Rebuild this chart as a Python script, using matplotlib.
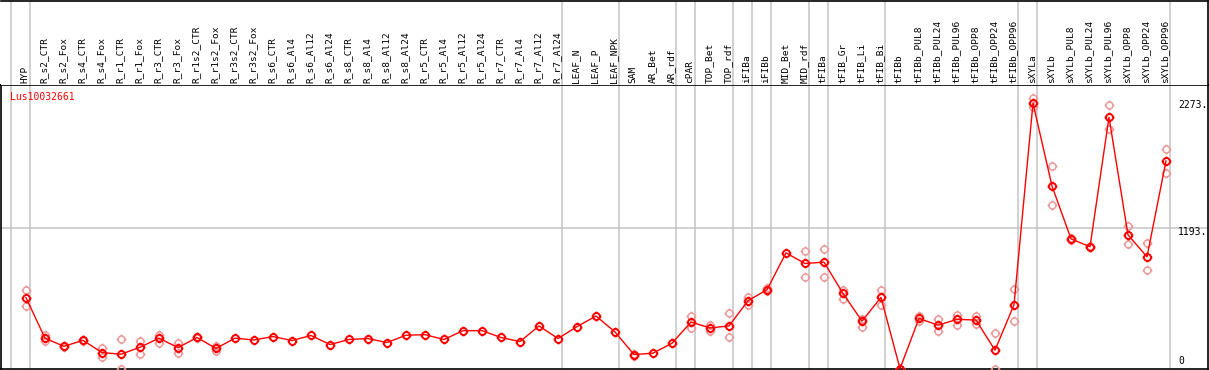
import numpy as np
import matplotlib
matplotlib.use("Agg")
import matplotlib.pyplot as plt
from matplotlib.path import Path

nan = np.nan

categories = ["HYP", "R_s2_CTR", "R_s2_Fox", "R_s4_CTR", "R_s4_Fox", "R_r1_CTR", "R_r1_Fox",
              "R_r3_CTR", "R_r3_Fox", "R_r1s2_CTR", "R_r1s2_Fox", "R_r3s2_CTR", "R_r3s2_Fox",
              "R_s6_CTR", "R_s6_Al4", "R_s6_Al12", "R_s6_Al24", "R_s8_CTR", "R_s8_Al4",
              "R_s8_Al12", "R_s8_Al24", "R_r5_CTR", "R_r5_Al4", "R_r5_Al12", "R_r5_Al24",
              "R_r7_CTR", "R_r7_Al4", "R_r7_Al12", "R_r7_Al24", "LEAF_N", "LEAF_P", "LEAF_NPK",
              "SAM", "AR_Bet", "AR_rdf", "cPAR", "TOP_Bet", "TOP_rdf", "iFIBa", "iFIBb",
              "MID_Bet", "MID_rdf", "tFIBa", "tFIB_Gr", "tFIB_Li", "tFIB_Bi", "tFIBb",
              "tFIBb_PUL8", "tFIBb_PUL24", "tFIBb_PUL96", "tFIBb_OPP8", "tFIBb_OPP24",
              "tFIBb_OPP96", "sXYLa", "sXYLb", "sXYLb_PUL8", "sXYLb_PUL24", "sXYLb_PUL96",
              "sXYLb_OPP8", "sXYLb_OPP24", "sXYLb_OPP96"]

mean_values = [602, 258, 189, 240, 136, 122, 181, 258, 178, 264, 171, 258, 243,
               272, 238, 281, 204, 247, 255, 221, 283, 288, 247, 322, 322,
               264, 229, 362, 255, 356, 446, 311, 119, 131, 215, 395, 345, 362,
               576, 669, 982, 892, 903, 638, 403, 604, 0, 426, 368, 418, 412, 156,
               542, 2251, 1549, 1101, 1034, 2133, 1135, 948, 1761]

rep_a = [664, 282, 195, 246, 171, 249, 232, 288, 221, 270, 192, nan, nan,
         nan, nan, nan, nan, nan, nan, nan, nan, nan, nan, nan, nan,
         nan, nan, nan, nan, nan, nan, nan, 108, nan, nan, 446, 368, 475,
         606, 680, nan, 1000, 1011, 664, 418, 666, 0, 446, 418, 458, 446, 305,
         678, 2293, 1715, 1110, 1040, 2237, 1208, 1067, 1862]

rep_b = [530, 235, 182, 234, 102, 0, 125, 221, 136, 258, 150, nan, nan,
         nan, nan, nan, nan, nan, nan, nan, nan, nan, nan, nan, nan,
         nan, nan, nan, nan, nan, nan, nan, 125, nan, nan, 345, 322, 264,
         536, 660, nan, 779, 779, 594, 356, 536, 0, 401, 319, 374, 376, 0,
         407, 2217, 1388, 1092, 1028, 2032, 1058, 835, 1660]

group_ends = [-1, 0, 28, 31, 34, 35, 37, 38, 39, 41, 42, 45, 52, 53, 60]
gene_name = "Lus10032661"
axis_labels = ["2273.", "1193.", "0"]
axis_values = [2273, 1193, 0]

W, H = 1209, 370
fig = plt.figure(figsize=(W / 100, H / 100), dpi=100)

# pixel geometry
left_px, right_px = 1, 1207.5
top_hdr, split_px, bottom_px = 0.5, 85, 369
x0_px, dx_px = 26, 19
xmin = (left_px - x0_px) / dx_px
xmax = (right_px - x0_px) / dx_px
scale = 0.1182
zero_px = 369.4
ymin = (zero_px - bottom_px) / scale * -1
ymax = (zero_px - split_px) / scale

ax = fig.add_axes([left_px / W, (H - bottom_px) / H, (right_px - left_px) / W, (bottom_px - split_px) / H])
hdr = fig.add_axes([left_px / W, (H - split_px) / H, (right_px - left_px) / W, (split_px - top_hdr) / H])

for a in (ax, hdr):
    a.set_xlim(xmin, xmax)
    a.set_xticks([])
    a.set_yticks([])
    for s in a.spines.values():
        s.set_color("black")
        s.set_linewidth(1.2)
ax.set_ylim(ymin, ymax)
hdr.set_ylim(split_px, top_hdr)
hdr.spines["left"].set_visible(False)
hdr.spines["bottom"].set_visible(False)

grid_c = "#c4c4c4"
for g in group_ends:
    for a in (ax, hdr):
        a.axvline(g + 0.22, color=grid_c, lw=1.1, zorder=1)
ax.axhline(1193, color=grid_c, lw=1.1, zorder=1)

mono = "DejaVu Sans Mono"
for i, name in enumerate(categories):
    hdr.text(i - 0.05, 83, name, rotation=90, ha="center", va="bottom",
             fontsize=6.8, family=mono, color="black")

# custom marker: circle with small ticks
circ = Path.unit_circle()
ticks = []
for ang in (0, np.pi / 2, np.pi, 3 * np.pi / 2):
    c, s = np.cos(ang), np.sin(ang)
    ticks.append(Path([[c, s], [1.4 * c, 1.4 * s]], [Path.MOVETO, Path.LINETO]))
marker = Path.make_compound_path(circ, *ticks)

x = np.arange(len(categories))
ax.plot(x, rep_a, linestyle="none", marker=marker, markersize=7, markerfacecolor="none",
        markeredgecolor="#ec9a9a", markeredgewidth=1.1, zorder=3)
ax.plot(x, rep_b, linestyle="none", marker=marker, markersize=7, markerfacecolor="none",
        markeredgecolor="#ec9a9a", markeredgewidth=1.1, zorder=3)
ax.plot(x, mean_values, color="#ff0000", lw=1.0, marker=marker, markersize=7,
        markerfacecolor="none", markeredgecolor="#ff0000", markeredgewidth=1.4, zorder=4)

ax.text((10 - x0_px) / dx_px, (zero_px - 97) / scale, gene_name, color="#ff0000",
        fontsize=7, family=mono, ha="left", va="center")

lab_x = (1178 - x0_px) / dx_px
ax.text(lab_x, 2273 - 36, axis_labels[0], fontsize=7, family=mono, ha="left", va="center")
ax.text(lab_x, 1193 - 37, axis_labels[1], fontsize=7, family=mono, ha="left", va="center")
ax.text(lab_x, (zero_px - 362) / scale, axis_labels[2], fontsize=7, family=mono, ha="left", va="center")

fig.savefig("out.png", dpi=100)
